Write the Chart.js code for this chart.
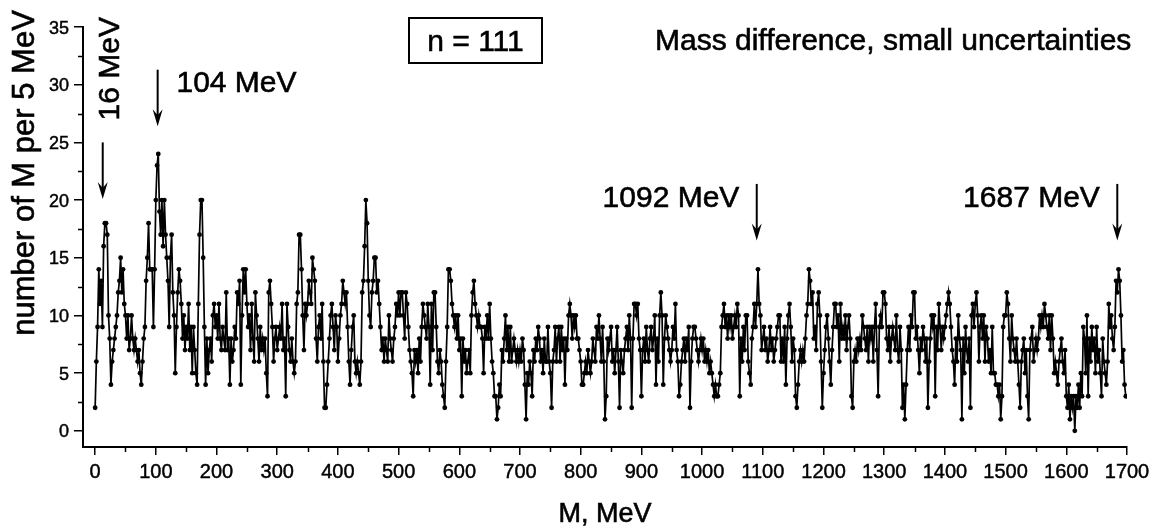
<!DOCTYPE html>
<html>
<head>
<meta charset="utf-8">
<title>Mass difference, small uncertainties</title>
<script src="https://cdn.jsdelivr.net/npm/chart.js@4.4.1/dist/chart.umd.min.js"></script>
<style>
  html, body { margin: 0; padding: 0; background: #fff; }
  #wrap { position: relative; width: 1152px; height: 529px; }
</style>
</head>
<body>
<div id="wrap"><canvas id="chart"></canvas></div>
<script>
// number of M per 5 MeV, one value every 2 MeV starting at M = 0
const massStart = 0;
const massStep = 2;

// one block per 100 MeV (50 values each)
const counts0000 = [2,6,9,14,11,13,9,16,18,18, 17,10,8,4,6,7,8,9,10,12, 13,15,12,14,11,10,8,10,7,8, 10,8,7,8,7,6,7,5,4,6, 8,9,13,15,18,14,14,14,9,14];
const counts0100 = [20,23,24,19,17,20,16,20,17,15, 13,9,15,17,12,10,5,9,12,14, 13,11,8,10,7,9,8,11,7,9, 5,9,7,5,4,11,17,20,20,15, 9,4,8,5,7,8,6,10,11,9];
const counts0200 = [10,8,11,8,7,9,8,7,12,7, 8,4,8,6,7,9,8,12,11,13, 4,10,14,12,14,11,9,10,7,11, 8,6,12,10,8,6,9,7,8,7, 8,5,3,12,13,11,9,6,8,9];
const counts0300 = [7,8,9,8,11,7,8,3,11,9, 7,6,8,6,5,6,11,12,17,17, 14,10,7,11,10,11,13,12,11,15, 14,13,8,6,9,10,8,11,6,2, 2,4,6,8,10,11,9,7,10,9];
const counts0400 = [6,8,10,11,13,12,11,12,9,6, 4,7,9,10,6,5,6,5,4,6, 12,13,16,20,18,13,10,9,12,13, 15,15,12,13,11,9,7,8,6,8, 7,6,10,8,7,6,8,9,11,10];
const counts0500 = [12,10,12,12,10,8,12,11,9,7, 6,5,3,7,6,7,5,8,6,9, 11,10,9,8,11,9,4,11,7,12, 12,9,6,5,7,6,4,3,2,6, 9,14,14,13,11,10,9,10,8,10];
const counts0600 = [7,8,3,8,6,7,5,6,7,5, 10,12,13,11,10,9,10,9,9,8, 5,9,8,10,8,11,8,6,5,3, 3,1,2,4,3,7,6,8,10,7, 9,6,9,6,7,8,7,6,7,6];
const counts0700 = [7,6,8,7,4,1,5,4,6,5, 3,7,6,8,7,9,8,6,7,5, 8,6,6,9,6,5,2,6,7,9, 6,8,9,6,9,7,8,4,8,7, 10,11,10,8,10,9,10,8,8,7];
const counts0800 = [6,4,4,5,6,5,7,6,5,6, 8,7,6,9,8,10,8,6,9,6, 1,3,8,7,8,9,6,7,5,7, 9,6,2,7,6,5,7,8,9,7, 10,8,2,8,11,11,10,11,8,7];
const counts0900 = [3,7,8,6,9,7,6,8,9,7, 8,10,4,8,6,10,12,10,4,8, 10,9,8,7,6,7,9,8,11,7, 6,3,4,6,7,8,6,8,7,9, 2,6,8,9,9,8,7,6,7,8];
const counts1000 = [7,8,6,7,6,7,5,6,5,4, 3,4,3,3,4,5,9,10,11,9, 10,8,10,9,10,8,9,10,9,11, 10,3,8,6,9,7,10,10,6,5, 4,8,9,11,9,11,14,11,10,7];
const counts1100 = [8,9,7,8,6,7,9,7,8,6, 7,8,9,10,10,6,8,6,9,4, 8,10,11,9,6,8,7,3,2,4, 6,7,6,7,6,8,10,11,14,13, 11,12,8,9,7,11,12,10,6,2];
const counts1200 = [5,7,9,10,8,6,4,7,9,11, 11,9,10,6,11,8,9,8,10,7, 9,10,8,3,2,6,7,6,8,7, 8,7,10,9,8,7,9,6,9,8, 9,6,9,11,7,3,9,10,9,12];
const counts1300 = [12,11,8,7,9,6,8,9,8,7, 10,7,6,9,7,2,4,1,4,7, 9,7,10,9,12,12,8,9,7,5, 8,7,9,8,6,8,2,6,8,10, 9,10,3,9,7,11,9,7,9,8];
const counts1400 = [9,10,11,12,11,9,7,6,4,8, 6,10,8,7,1,8,5,9,7,6, 8,2,10,11,9,11,12,10,6,9, 10,8,10,6,9,8,6,7,5,9, 5,5,4,4,3,4,1,3,9,10];
const counts1500 = [10,12,11,8,6,10,8,7,6,8, 6,4,2,6,7,8,5,7,3,1, 7,8,9,6,7,8,7,8,10,9, 10,9,11,10,9,8,10,7,10,8, 5,6,5,4,6,7,8,6,5,7];
const counts1600 = [3,2,4,1,3,2,3,0,3,2, 4,2,5,3,9,8,5,10,3,8, 6,9,7,8,5,9,6,7,5,3, 8,6,5,4,6,11,9,10,8,7, 9,13,12,14,13,10,6,7,4,3];

const xTickValues = [0,100,200,300,400,500,600,700,800,900,1000,1100,1200,1300,1400,1500,1600,1700];
const xMinorValues = [50,150,250,350,450,550,650,750,850,950,1050,1150,1250,1350,1450,1550,1650];
const yTickValues = [0,5,10,15,20,25,30,35];
const yMinorValues = [2.5,7.5,12.5,17.5,22.5,27.5,32.5];

// arrows marking the peaks (mass, top of arrow, tip of arrow)
const arrowMass = [12.5, 103, 1090, 1684];
const arrowTop = [25.0, 31.3, 21.4, 21.4];
const arrowTip = [20.1, 26.4, 16.5, 16.5];
const peakLabels = ['16 MeV', '104 MeV', '1092 MeV', '1687 MeV'];
const peakLabelMass = [40, 134, 836, 1430];
const peakLabelValue = [26.9, 29.4, 19.4, 19.4];

const allCounts = [].concat(counts0000, counts0100, counts0200, counts0300, counts0400,
  counts0500, counts0600, counts0700, counts0800, counts0900, counts1000, counts1100,
  counts1200, counts1300, counts1400, counts1500, counts1600);
const points = allCounts.map((c, i) => ({ x: massStart + i * massStep, y: c }));

const FONT = '"Liberation Sans", Arial, Helvetica, sans-serif';

// slightly heavier text, like the original export
function heavyText(ctx, text, x, y) {
  ctx.fillText(text, x, y);
  ctx.strokeText(text, x, y);
}

const overlay = {
  id: 'overlay',
  afterDraw(chart) {
    const { ctx, chartArea, scales: { x, y } } = chart;
    ctx.save();
    ctx.strokeStyle = '#000';
    ctx.fillStyle = '#000';

    // minor ticks
    ctx.lineWidth = 1.5;
    ctx.beginPath();
    xMinorValues.forEach(v => {
      const px = Math.round(x.getPixelForValue(v)) + 0.5;
      ctx.moveTo(px, chartArea.bottom);
      ctx.lineTo(px, chartArea.bottom + 5);
    });
    yMinorValues.forEach(v => {
      const py = Math.round(y.getPixelForValue(v)) + 0.5;
      ctx.moveTo(chartArea.left, py);
      ctx.lineTo(chartArea.left - 5, py);
    });
    ctx.stroke();

    // arrows
    arrowMass.forEach((m, i) => {
      const px = x.getPixelForValue(m);
      const top = y.getPixelForValue(arrowTop[i]);
      const tip = y.getPixelForValue(arrowTip[i]);
      ctx.lineWidth = 2;
      ctx.beginPath();
      ctx.moveTo(px, top);
      ctx.lineTo(px, tip - 6);
      ctx.stroke();
      ctx.beginPath();
      ctx.moveTo(px, tip);
      ctx.lineTo(px - 5, tip - 17);
      ctx.lineTo(px, tip - 11);
      ctx.lineTo(px + 5, tip - 17);
      ctx.closePath();
      ctx.fill();
    });

    ctx.textBaseline = 'alphabetic';

    // tick labels
    ctx.lineWidth = 0.45;
    ctx.font = '20px ' + FONT;
    ctx.textAlign = 'center';
    xTickValues.forEach(v => heavyText(ctx, String(v), x.getPixelForValue(v), 478));
    ctx.font = '18px ' + FONT;
    ctx.textAlign = 'right';
    yTickValues.forEach(v => heavyText(ctx, String(v), 69, y.getPixelForValue(v) + 6.5));

    // peak labels
    ctx.lineWidth = 0.6;
    ctx.font = '30px ' + FONT;
    ctx.textAlign = 'left';
    peakLabels.forEach((t, i) => {
      const px = x.getPixelForValue(peakLabelMass[i]);
      const py = y.getPixelForValue(peakLabelValue[i]);
      if (i === 0) {
        ctx.save();
        ctx.translate(px, py);
        ctx.rotate(-Math.PI / 2);
        heavyText(ctx, t, 0, 0);
        ctx.restore();
      } else {
        heavyText(ctx, t, px, py);
      }
    });

    // n = 111 box
    ctx.lineWidth = 2;
    ctx.strokeRect(409, 18, 133, 45);
    ctx.lineWidth = 0.6;
    ctx.textAlign = 'center';
    heavyText(ctx, 'n = 111', 475.5, 51);

    // title
    ctx.textAlign = 'left';
    heavyText(ctx, 'Mass difference, small uncertainties', 655, 50);

    // axis titles
    ctx.font = '27px ' + FONT;
    ctx.textAlign = 'center';
    heavyText(ctx, 'M, MeV', (chartArea.left + chartArea.right) / 2, 522);

    ctx.font = '31px ' + FONT;
    ctx.save();
    ctx.translate(34, 173);
    ctx.rotate(-Math.PI / 2);
    heavyText(ctx, 'number of M per 5 MeV', 0, 0);
    ctx.restore();

    ctx.restore();
  }
};

new Chart(document.getElementById('chart'), {
  type: 'line',
  data: {
    datasets: [{
      data: points,
      borderColor: '#000',
      borderWidth: 1.7,
      pointRadius: 2.4,
      pointBorderWidth: 0,
      pointBackgroundColor: '#000',
      tension: 0
    }]
  },
  options: {
    responsive: true,
    maintainAspectRatio: false,
    animation: false,
    layout: { padding: { top: 27, right: 25, left: 0, bottom: 0 } },
    plugins: {
      legend: { display: false },
      tooltip: { enabled: false }
    },
    scales: {
      x: {
        type: 'linear',
        min: -20,
        max: 1700,
        afterBuildTicks: s => { s.ticks = xTickValues.map(v => ({ value: v })); },
        afterFit: s => { s.height = 82; },
        ticks: { display: false },
        grid: { drawOnChartArea: false, drawTicks: true, tickLength: 8, color: '#000', lineWidth: 1.5 },
        border: { color: '#000', width: 2 }
      },
      y: {
        min: -1.4,
        max: 35,
        afterBuildTicks: s => { s.ticks = yTickValues.map(v => ({ value: v })); },
        afterFit: s => { s.width = 83; },
        ticks: { display: false },
        grid: { drawOnChartArea: false, drawTicks: true, tickLength: 9, color: '#000', lineWidth: 1.5 },
        border: { color: '#000', width: 2 }
      }
    }
  },
  plugins: [overlay]
});
</script>
</body>
</html>
